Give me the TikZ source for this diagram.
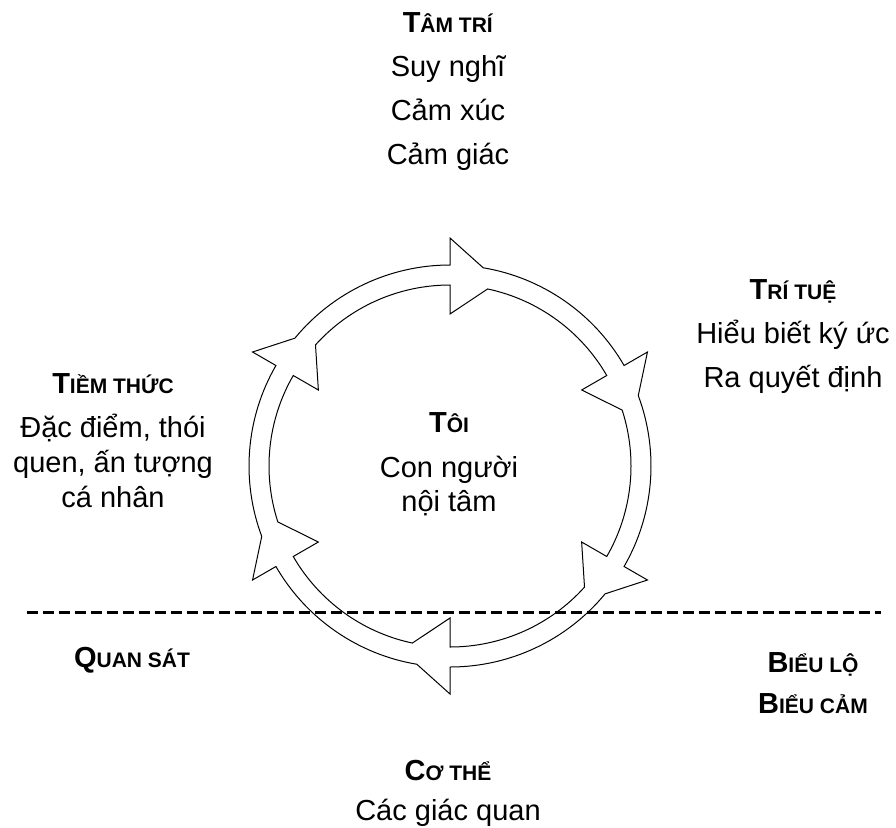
\documentclass[tikz,border=0pt]{standalone}
\usepackage{fontspec}
\setmainfont{Liberation Sans}
\newcommand\smcap[1]{{\fontsize{21}{22}\selectfont #1}}
\begin{document}
\begin{tikzpicture}[x=1pt, y=-1pt,
  lbl/.style={font=\fontsize{29}{44}\selectfont, align=center, anchor=base, inner sep=0pt},
  ring/.style={line width=1pt, line join=miter},
  divider/.style={line width=3pt, dash pattern=on 11pt off 5pt}]
\useasboundingbox (0,0) rectangle (896,827);

% Labels round the ring (anchored on the baseline of their last line)
\node (mind) [lbl] at (448,164) {\textbf{T\smcap{ÂM TRÍ}}\\Suy nghĩ\\Cảm xúc\\Cảm giác};
\node (intellect) [lbl] at (793,387) {\textbf{T\smcap{RÍ TUỆ}}\\Hiểu biết ký ức\\Ra quyết định};
\node (subcon) [lbl, font=\fontsize{29}{35}\selectfont] at (113,507) {\textbf{T\smcap{IỀM THỨC}}\\[9pt]Đặc điểm, thói\\quen, ấn tượng\\cá nhân};
\node (self) [lbl, font=\fontsize{29}{34}\selectfont] at (449,511) {\textbf{T\smcap{ÔI}}\\[11pt]Con người\\nội tâm};
\node (observe) [lbl] at (132,667) {\textbf{Q\smcap{UAN SÁT}}};
\node (express) [lbl, font=\fontsize{29}{41}\selectfont] at (813,713) {\textbf{B\smcap{IỂU LỘ}}\\\textbf{B\smcap{IỂU CẢM}}};
\node (body) [lbl, font=\fontsize{29}{40}\selectfont] at (448,820) {\textbf{C\smcap{Ơ THỂ}}\\Các giác quan};

% Ring with six barbs, running clockwise
\coordinate (c) at (450,466);
\begin{scope}[shift={(c)}, yscale=-1]
  \draw[ring] (80.5:201) \foreach \a in {30,-30,-90,-150,-210,-270} {
      arc[start angle=\a+50.5, end angle=\a, radius=201] -- (\a:228) -- (\a-9.5:201) } -- cycle;
  \draw[ring] (78:181) \foreach \a in {30,-30,-90,-150,-210,-270} {
      arc[start angle=\a+48, end angle=\a, radius=181] -- (\a:152) -- (\a-12:181) } -- cycle;
\end{scope}

% Divider
\coordinate (dl) at (27,612);
\coordinate (dr) at (881,612);
\draw[divider] (dl) -- (dr);

\end{tikzpicture}
\end{document}
